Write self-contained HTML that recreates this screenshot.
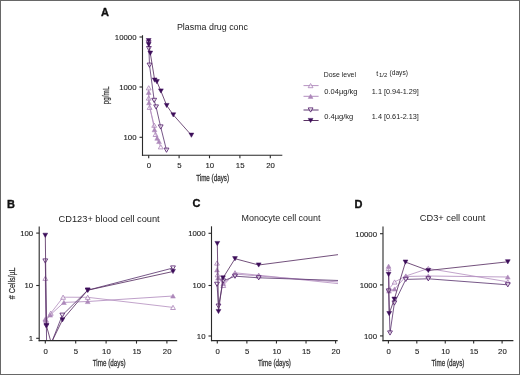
<!DOCTYPE html>
<html><head><meta charset="utf-8"><style>
html,body{margin:0;padding:0;background:#fff;}
#f{position:absolute;left:0;top:0;width:520px;height:375px;box-sizing:border-box;border:1px solid #676767;overflow:hidden;}
svg{position:absolute;left:-1px;top:-1px;}
text{font-family:"Liberation Sans", sans-serif;}
</style></head><body><div id="f">
<svg width="520" height="375" viewBox="0 0 520 375">
<defs><filter id="soft" x="-5%" y="-5%" width="110%" height="110%"><feGaussianBlur stdDeviation="0.3"/></filter></defs>
<g filter="url(#soft)">
<defs><clipPath id="clipC"><rect x="200" y="220" width="138" height="125"/></clipPath><clipPath id="clipB"><rect x="39" y="220" width="150" height="120.3"/></clipPath></defs>
<polyline points="148.70,87.80 148.70,98.00 149.60,107.30 154.20,125.20 155.50,134.40 160.70,146.80" fill="none" stroke="#b793c2" stroke-width="0.85" stroke-linejoin="round"/>
<polygon points="146.30,89.90 151.10,89.90 148.70,85.70" fill="#fff" fill-opacity="0.6" stroke="#ad88ba" stroke-width="0.85"/>
<polygon points="146.30,100.10 151.10,100.10 148.70,95.90" fill="#fff" fill-opacity="0.6" stroke="#ad88ba" stroke-width="0.85"/>
<polygon points="147.20,109.40 152.00,109.40 149.60,105.20" fill="#fff" fill-opacity="0.6" stroke="#ad88ba" stroke-width="0.85"/>
<polygon points="151.80,127.30 156.60,127.30 154.20,123.10" fill="#fff" fill-opacity="0.6" stroke="#ad88ba" stroke-width="0.85"/>
<polygon points="153.10,136.50 157.90,136.50 155.50,132.30" fill="#fff" fill-opacity="0.6" stroke="#ad88ba" stroke-width="0.85"/>
<polygon points="158.30,148.90 163.10,148.90 160.70,144.70" fill="#fff" fill-opacity="0.6" stroke="#ad88ba" stroke-width="0.85"/>
<polyline points="148.70,92.40 149.00,102.70 154.50,129.70 157.20,138.20 159.00,141.50" fill="none" stroke="#b28ebf" stroke-width="0.85" stroke-linejoin="round"/>
<polygon points="146.30,94.50 151.10,94.50 148.70,90.30" fill="#ad88ba" stroke="#ad88ba" stroke-width="0.5"/>
<polygon points="146.60,104.80 151.40,104.80 149.00,100.60" fill="#ad88ba" stroke="#ad88ba" stroke-width="0.5"/>
<polygon points="152.10,131.80 156.90,131.80 154.50,127.60" fill="#ad88ba" stroke="#ad88ba" stroke-width="0.5"/>
<polygon points="154.80,140.30 159.60,140.30 157.20,136.10" fill="#ad88ba" stroke="#ad88ba" stroke-width="0.5"/>
<polygon points="156.60,143.60 161.40,143.60 159.00,139.40" fill="#ad88ba" stroke="#ad88ba" stroke-width="0.5"/>
<polyline points="148.70,42.80 148.90,48.60 149.50,65.20 154.20,100.40 156.10,107.00 160.70,127.00 166.50,150.20" fill="none" stroke="#5e3a72" stroke-width="0.85" stroke-linejoin="round"/>
<polygon points="146.30,40.70 151.10,40.70 148.70,44.90" fill="#fff" fill-opacity="0.6" stroke="#55206e" stroke-width="0.85"/>
<polygon points="146.50,46.50 151.30,46.50 148.90,50.70" fill="#fff" fill-opacity="0.6" stroke="#55206e" stroke-width="0.85"/>
<polygon points="147.10,63.10 151.90,63.10 149.50,67.30" fill="#fff" fill-opacity="0.6" stroke="#55206e" stroke-width="0.85"/>
<polygon points="151.80,98.30 156.60,98.30 154.20,102.50" fill="#fff" fill-opacity="0.6" stroke="#55206e" stroke-width="0.85"/>
<polygon points="153.70,104.90 158.50,104.90 156.10,109.10" fill="#fff" fill-opacity="0.6" stroke="#55206e" stroke-width="0.85"/>
<polygon points="158.30,124.90 163.10,124.90 160.70,129.10" fill="#fff" fill-opacity="0.6" stroke="#55206e" stroke-width="0.85"/>
<polygon points="164.10,148.10 168.90,148.10 166.50,152.30" fill="#fff" fill-opacity="0.6" stroke="#55206e" stroke-width="0.85"/>
<polyline points="148.70,40.60 148.70,44.60 150.30,53.20 154.70,80.10 156.90,81.70 160.90,91.00 166.70,105.50 173.30,114.90 191.40,135.20" fill="none" stroke="#5a3264" stroke-width="0.85" stroke-linejoin="round"/>
<polygon points="146.30,38.50 151.10,38.50 148.70,42.70" fill="#3c0c5a" stroke="#3c0c5a" stroke-width="0.5"/>
<polygon points="146.30,42.50 151.10,42.50 148.70,46.70" fill="#3c0c5a" stroke="#3c0c5a" stroke-width="0.5"/>
<polygon points="147.90,51.10 152.70,51.10 150.30,55.30" fill="#3c0c5a" stroke="#3c0c5a" stroke-width="0.5"/>
<polygon points="152.30,78.00 157.10,78.00 154.70,82.20" fill="#3c0c5a" stroke="#3c0c5a" stroke-width="0.5"/>
<polygon points="154.50,79.60 159.30,79.60 156.90,83.80" fill="#3c0c5a" stroke="#3c0c5a" stroke-width="0.5"/>
<polygon points="158.50,88.90 163.30,88.90 160.90,93.10" fill="#3c0c5a" stroke="#3c0c5a" stroke-width="0.5"/>
<polygon points="164.30,103.40 169.10,103.40 166.70,107.60" fill="#3c0c5a" stroke="#3c0c5a" stroke-width="0.5"/>
<polygon points="170.90,112.80 175.70,112.80 173.30,117.00" fill="#3c0c5a" stroke="#3c0c5a" stroke-width="0.5"/>
<polygon points="189.00,133.10 193.80,133.10 191.40,137.30" fill="#3c0c5a" stroke="#3c0c5a" stroke-width="0.5"/>
<polyline points="45.30,278.30 45.80,319.50 50.80,313.20 63.10,297.20 87.70,297.30 173.00,307.40" fill="none" stroke="#b793c2" stroke-width="0.85" stroke-linejoin="round"/>
<polygon points="42.90,280.40 47.70,280.40 45.30,276.20" fill="#fff" fill-opacity="0.6" stroke="#ad88ba" stroke-width="0.85"/>
<polygon points="43.40,321.60 48.20,321.60 45.80,317.40" fill="#fff" fill-opacity="0.6" stroke="#ad88ba" stroke-width="0.85"/>
<polygon points="48.40,315.30 53.20,315.30 50.80,311.10" fill="#fff" fill-opacity="0.6" stroke="#ad88ba" stroke-width="0.85"/>
<polygon points="60.70,299.30 65.50,299.30 63.10,295.10" fill="#fff" fill-opacity="0.6" stroke="#ad88ba" stroke-width="0.85"/>
<polygon points="85.30,299.40 90.10,299.40 87.70,295.20" fill="#fff" fill-opacity="0.6" stroke="#ad88ba" stroke-width="0.85"/>
<polygon points="170.60,309.50 175.40,309.50 173.00,305.30" fill="#fff" fill-opacity="0.6" stroke="#ad88ba" stroke-width="0.85"/>
<polyline points="45.30,319.00 46.00,320.40 50.20,315.00 63.90,302.40 87.70,301.50 173.00,296.00" fill="none" stroke="#b28ebf" stroke-width="0.85" stroke-linejoin="round"/>
<polygon points="42.90,321.10 47.70,321.10 45.30,316.90" fill="#ad88ba" stroke="#ad88ba" stroke-width="0.5"/>
<polygon points="43.60,322.50 48.40,322.50 46.00,318.30" fill="#ad88ba" stroke="#ad88ba" stroke-width="0.5"/>
<polygon points="47.80,317.10 52.60,317.10 50.20,312.90" fill="#ad88ba" stroke="#ad88ba" stroke-width="0.5"/>
<polygon points="61.50,304.50 66.30,304.50 63.90,300.30" fill="#ad88ba" stroke="#ad88ba" stroke-width="0.5"/>
<polygon points="85.30,303.60 90.10,303.60 87.70,299.40" fill="#ad88ba" stroke="#ad88ba" stroke-width="0.5"/>
<polygon points="170.60,298.10 175.40,298.10 173.00,293.90" fill="#ad88ba" stroke="#ad88ba" stroke-width="0.5"/>
<polyline points="45.30,261.00 46.40,326.00 46.60,343.00 51.40,343.00 62.30,315.20 87.70,290.20 173.00,268.00" fill="none" stroke="#5e3a72" stroke-width="0.85" stroke-linejoin="round" clip-path="url(#clipB)"/>
<g clip-path="url(#clipB)">
<polygon points="42.90,258.90 47.70,258.90 45.30,263.10" fill="#fff" fill-opacity="0.6" stroke="#55206e" stroke-width="0.85"/>
<polygon points="44.00,323.90 48.80,323.90 46.40,328.10" fill="#fff" fill-opacity="0.6" stroke="#55206e" stroke-width="0.85"/>
<polygon points="44.20,340.90 49.00,340.90 46.60,345.10" fill="#fff" fill-opacity="0.6" stroke="#55206e" stroke-width="0.85"/>
<polygon points="49.00,340.90 53.80,340.90 51.40,345.10" fill="#fff" fill-opacity="0.6" stroke="#55206e" stroke-width="0.85"/>
<polygon points="59.90,313.10 64.70,313.10 62.30,317.30" fill="#fff" fill-opacity="0.6" stroke="#55206e" stroke-width="0.85"/>
<polygon points="85.30,288.10 90.10,288.10 87.70,292.30" fill="#fff" fill-opacity="0.6" stroke="#55206e" stroke-width="0.85"/>
<polygon points="170.60,265.90 175.40,265.90 173.00,270.10" fill="#fff" fill-opacity="0.6" stroke="#55206e" stroke-width="0.85"/>
</g>
<polyline points="45.30,235.30 46.40,325.50 51.20,343.00 62.50,319.80 87.70,290.20 173.00,271.50" fill="none" stroke="#5a3264" stroke-width="0.85" stroke-linejoin="round" clip-path="url(#clipB)"/>
<g clip-path="url(#clipB)">
<polygon points="42.90,233.20 47.70,233.20 45.30,237.40" fill="#3c0c5a" stroke="#3c0c5a" stroke-width="0.5"/>
<polygon points="44.00,323.40 48.80,323.40 46.40,327.60" fill="#3c0c5a" stroke="#3c0c5a" stroke-width="0.5"/>
<polygon points="48.80,340.90 53.60,340.90 51.20,345.10" fill="#3c0c5a" stroke="#3c0c5a" stroke-width="0.5"/>
<polygon points="60.10,317.70 64.90,317.70 62.50,321.90" fill="#3c0c5a" stroke="#3c0c5a" stroke-width="0.5"/>
<polygon points="85.30,288.10 90.10,288.10 87.70,292.30" fill="#3c0c5a" stroke="#3c0c5a" stroke-width="0.5"/>
<polygon points="170.60,269.40 175.40,269.40 173.00,273.60" fill="#3c0c5a" stroke="#3c0c5a" stroke-width="0.5"/>
</g>
<polyline points="217.00,263.00 217.60,274.70 223.30,285.40 235.00,272.80 258.70,275.20 341.50,284.00" fill="none" stroke="#b793c2" stroke-width="0.85" stroke-linejoin="round" clip-path="url(#clipC)"/>
<g clip-path="url(#clipC)">
<polygon points="214.60,265.10 219.40,265.10 217.00,260.90" fill="#fff" fill-opacity="0.6" stroke="#ad88ba" stroke-width="0.85"/>
<polygon points="215.20,276.80 220.00,276.80 217.60,272.60" fill="#fff" fill-opacity="0.6" stroke="#ad88ba" stroke-width="0.85"/>
<polygon points="220.90,287.50 225.70,287.50 223.30,283.30" fill="#fff" fill-opacity="0.6" stroke="#ad88ba" stroke-width="0.85"/>
<polygon points="232.60,274.90 237.40,274.90 235.00,270.70" fill="#fff" fill-opacity="0.6" stroke="#ad88ba" stroke-width="0.85"/>
<polygon points="256.30,277.30 261.10,277.30 258.70,273.10" fill="#fff" fill-opacity="0.6" stroke="#ad88ba" stroke-width="0.85"/>
<polygon points="339.10,286.10 343.90,286.10 341.50,281.90" fill="#fff" fill-opacity="0.6" stroke="#ad88ba" stroke-width="0.85"/>
</g>
<polyline points="217.00,269.90 218.00,278.00 223.30,283.50 235.00,274.00 258.70,276.00 341.50,282.20" fill="none" stroke="#b28ebf" stroke-width="0.85" stroke-linejoin="round" clip-path="url(#clipC)"/>
<g clip-path="url(#clipC)">
<polygon points="214.60,272.00 219.40,272.00 217.00,267.80" fill="#ad88ba" stroke="#ad88ba" stroke-width="0.5"/>
<polygon points="215.60,280.10 220.40,280.10 218.00,275.90" fill="#ad88ba" stroke="#ad88ba" stroke-width="0.5"/>
<polygon points="220.90,285.60 225.70,285.60 223.30,281.40" fill="#ad88ba" stroke="#ad88ba" stroke-width="0.5"/>
<polygon points="232.60,276.10 237.40,276.10 235.00,271.90" fill="#ad88ba" stroke="#ad88ba" stroke-width="0.5"/>
<polygon points="256.30,278.10 261.10,278.10 258.70,273.90" fill="#ad88ba" stroke="#ad88ba" stroke-width="0.5"/>
<polygon points="339.10,284.30 343.90,284.30 341.50,280.10" fill="#ad88ba" stroke="#ad88ba" stroke-width="0.5"/>
</g>
<polyline points="217.00,284.30 218.50,306.10 223.20,281.00 235.00,276.20 258.70,277.80 341.50,280.60" fill="none" stroke="#5e3a72" stroke-width="0.85" stroke-linejoin="round" clip-path="url(#clipC)"/>
<g clip-path="url(#clipC)">
<polygon points="214.60,282.20 219.40,282.20 217.00,286.40" fill="#fff" fill-opacity="0.6" stroke="#55206e" stroke-width="0.85"/>
<polygon points="216.10,304.00 220.90,304.00 218.50,308.20" fill="#fff" fill-opacity="0.6" stroke="#55206e" stroke-width="0.85"/>
<polygon points="220.80,278.90 225.60,278.90 223.20,283.10" fill="#fff" fill-opacity="0.6" stroke="#55206e" stroke-width="0.85"/>
<polygon points="232.60,274.10 237.40,274.10 235.00,278.30" fill="#fff" fill-opacity="0.6" stroke="#55206e" stroke-width="0.85"/>
<polygon points="256.30,275.70 261.10,275.70 258.70,279.90" fill="#fff" fill-opacity="0.6" stroke="#55206e" stroke-width="0.85"/>
<polygon points="339.10,278.50 343.90,278.50 341.50,282.70" fill="#fff" fill-opacity="0.6" stroke="#55206e" stroke-width="0.85"/>
</g>
<polyline points="217.30,243.50 218.50,311.50 223.00,277.90 235.00,258.70 258.70,265.00 341.50,254.20" fill="none" stroke="#5a3264" stroke-width="0.85" stroke-linejoin="round" clip-path="url(#clipC)"/>
<g clip-path="url(#clipC)">
<polygon points="214.90,241.40 219.70,241.40 217.30,245.60" fill="#3c0c5a" stroke="#3c0c5a" stroke-width="0.5"/>
<polygon points="216.10,309.40 220.90,309.40 218.50,313.60" fill="#3c0c5a" stroke="#3c0c5a" stroke-width="0.5"/>
<polygon points="220.60,275.80 225.40,275.80 223.00,280.00" fill="#3c0c5a" stroke="#3c0c5a" stroke-width="0.5"/>
<polygon points="232.60,256.60 237.40,256.60 235.00,260.80" fill="#3c0c5a" stroke="#3c0c5a" stroke-width="0.5"/>
<polygon points="256.30,262.90 261.10,262.90 258.70,267.10" fill="#3c0c5a" stroke="#3c0c5a" stroke-width="0.5"/>
<polygon points="339.10,252.10 343.90,252.10 341.50,256.30" fill="#3c0c5a" stroke="#3c0c5a" stroke-width="0.5"/>
</g>
<polyline points="388.60,268.50 389.00,289.00 394.60,282.00 405.80,276.00 428.30,268.50 507.80,281.80" fill="none" stroke="#b793c2" stroke-width="0.85" stroke-linejoin="round"/>
<polygon points="386.20,270.60 391.00,270.60 388.60,266.40" fill="#fff" fill-opacity="0.6" stroke="#ad88ba" stroke-width="0.85"/>
<polygon points="386.60,291.10 391.40,291.10 389.00,286.90" fill="#fff" fill-opacity="0.6" stroke="#ad88ba" stroke-width="0.85"/>
<polygon points="392.20,284.10 397.00,284.10 394.60,279.90" fill="#fff" fill-opacity="0.6" stroke="#ad88ba" stroke-width="0.85"/>
<polygon points="403.40,278.10 408.20,278.10 405.80,273.90" fill="#fff" fill-opacity="0.6" stroke="#ad88ba" stroke-width="0.85"/>
<polygon points="425.90,270.60 430.70,270.60 428.30,266.40" fill="#fff" fill-opacity="0.6" stroke="#ad88ba" stroke-width="0.85"/>
<polygon points="505.40,283.90 510.20,283.90 507.80,279.70" fill="#fff" fill-opacity="0.6" stroke="#ad88ba" stroke-width="0.85"/>
<polyline points="388.60,266.20 389.00,291.00 394.60,289.00 405.80,276.50 428.30,276.00 507.80,277.00" fill="none" stroke="#b28ebf" stroke-width="0.85" stroke-linejoin="round"/>
<polygon points="386.20,268.30 391.00,268.30 388.60,264.10" fill="#ad88ba" stroke="#ad88ba" stroke-width="0.5"/>
<polygon points="386.60,293.10 391.40,293.10 389.00,288.90" fill="#ad88ba" stroke="#ad88ba" stroke-width="0.5"/>
<polygon points="392.20,291.10 397.00,291.10 394.60,286.90" fill="#ad88ba" stroke="#ad88ba" stroke-width="0.5"/>
<polygon points="403.40,278.60 408.20,278.60 405.80,274.40" fill="#ad88ba" stroke="#ad88ba" stroke-width="0.5"/>
<polygon points="425.90,278.10 430.70,278.10 428.30,273.90" fill="#ad88ba" stroke="#ad88ba" stroke-width="0.5"/>
<polygon points="505.40,279.10 510.20,279.10 507.80,274.90" fill="#ad88ba" stroke="#ad88ba" stroke-width="0.5"/>
<polyline points="388.70,291.00 390.00,333.00 394.40,303.00 405.80,279.40 428.30,278.80 507.80,284.80" fill="none" stroke="#5e3a72" stroke-width="0.85" stroke-linejoin="round"/>
<polygon points="386.30,288.90 391.10,288.90 388.70,293.10" fill="#fff" fill-opacity="0.6" stroke="#55206e" stroke-width="0.85"/>
<polygon points="387.60,330.90 392.40,330.90 390.00,335.10" fill="#fff" fill-opacity="0.6" stroke="#55206e" stroke-width="0.85"/>
<polygon points="392.00,300.90 396.80,300.90 394.40,305.10" fill="#fff" fill-opacity="0.6" stroke="#55206e" stroke-width="0.85"/>
<polygon points="403.40,277.30 408.20,277.30 405.80,281.50" fill="#fff" fill-opacity="0.6" stroke="#55206e" stroke-width="0.85"/>
<polygon points="425.90,276.70 430.70,276.70 428.30,280.90" fill="#fff" fill-opacity="0.6" stroke="#55206e" stroke-width="0.85"/>
<polygon points="505.40,282.70 510.20,282.70 507.80,286.90" fill="#fff" fill-opacity="0.6" stroke="#55206e" stroke-width="0.85"/>
<polyline points="388.60,274.40 389.20,313.60 394.30,299.20 405.50,262.10 428.30,270.50 507.80,261.80" fill="none" stroke="#5a3264" stroke-width="0.85" stroke-linejoin="round"/>
<polygon points="386.20,272.30 391.00,272.30 388.60,276.50" fill="#3c0c5a" stroke="#3c0c5a" stroke-width="0.5"/>
<polygon points="386.80,311.50 391.60,311.50 389.20,315.70" fill="#3c0c5a" stroke="#3c0c5a" stroke-width="0.5"/>
<polygon points="391.90,297.10 396.70,297.10 394.30,301.30" fill="#3c0c5a" stroke="#3c0c5a" stroke-width="0.5"/>
<polygon points="403.10,260.00 407.90,260.00 405.50,264.20" fill="#3c0c5a" stroke="#3c0c5a" stroke-width="0.5"/>
<polygon points="425.90,268.40 430.70,268.40 428.30,272.60" fill="#3c0c5a" stroke="#3c0c5a" stroke-width="0.5"/>
<polygon points="505.40,259.70 510.20,259.70 507.80,263.90" fill="#3c0c5a" stroke="#3c0c5a" stroke-width="0.5"/>
<line x1="142.50" y1="35.20" x2="142.50" y2="155.85" stroke="#2a2a2a" stroke-width="1.1"/>
<line x1="141.95" y1="155.30" x2="282.30" y2="155.30" stroke="#2a2a2a" stroke-width="1.1"/>
<line x1="139.50" y1="37.00" x2="142.50" y2="37.00" stroke="#2a2a2a" stroke-width="1.1"/>
<line x1="139.50" y1="87.00" x2="142.50" y2="87.00" stroke="#2a2a2a" stroke-width="1.1"/>
<line x1="139.50" y1="137.30" x2="142.50" y2="137.30" stroke="#2a2a2a" stroke-width="1.1"/>
<line x1="148.70" y1="155.30" x2="148.70" y2="158.30" stroke="#2a2a2a" stroke-width="1.1"/>
<line x1="179.10" y1="155.30" x2="179.10" y2="158.30" stroke="#2a2a2a" stroke-width="1.1"/>
<line x1="209.50" y1="155.30" x2="209.50" y2="158.30" stroke="#2a2a2a" stroke-width="1.1"/>
<line x1="239.90" y1="155.30" x2="239.90" y2="158.30" stroke="#2a2a2a" stroke-width="1.1"/>
<line x1="270.30" y1="155.30" x2="270.30" y2="158.30" stroke="#2a2a2a" stroke-width="1.1"/>
<line x1="39.20" y1="226.60" x2="39.20" y2="341.15" stroke="#2a2a2a" stroke-width="1.1"/>
<line x1="38.65" y1="340.60" x2="177.20" y2="340.60" stroke="#2a2a2a" stroke-width="1.1"/>
<line x1="36.20" y1="233.10" x2="39.20" y2="233.10" stroke="#2a2a2a" stroke-width="1.1"/>
<line x1="36.20" y1="285.50" x2="39.20" y2="285.50" stroke="#2a2a2a" stroke-width="1.1"/>
<line x1="36.20" y1="338.30" x2="39.20" y2="338.30" stroke="#2a2a2a" stroke-width="1.1"/>
<line x1="45.30" y1="340.60" x2="45.30" y2="343.60" stroke="#2a2a2a" stroke-width="1.1"/>
<line x1="75.70" y1="340.60" x2="75.70" y2="343.60" stroke="#2a2a2a" stroke-width="1.1"/>
<line x1="106.10" y1="340.60" x2="106.10" y2="343.60" stroke="#2a2a2a" stroke-width="1.1"/>
<line x1="136.50" y1="340.60" x2="136.50" y2="343.60" stroke="#2a2a2a" stroke-width="1.1"/>
<line x1="166.90" y1="340.60" x2="166.90" y2="343.60" stroke="#2a2a2a" stroke-width="1.1"/>
<line x1="211.50" y1="226.30" x2="211.50" y2="341.15" stroke="#2a2a2a" stroke-width="1.1"/>
<line x1="210.95" y1="340.60" x2="337.70" y2="340.60" stroke="#2a2a2a" stroke-width="1.1"/>
<line x1="208.50" y1="233.30" x2="211.50" y2="233.30" stroke="#2a2a2a" stroke-width="1.1"/>
<line x1="208.50" y1="285.50" x2="211.50" y2="285.50" stroke="#2a2a2a" stroke-width="1.1"/>
<line x1="208.50" y1="336.00" x2="211.50" y2="336.00" stroke="#2a2a2a" stroke-width="1.1"/>
<line x1="217.30" y1="340.60" x2="217.30" y2="343.60" stroke="#2a2a2a" stroke-width="1.1"/>
<line x1="246.88" y1="340.60" x2="246.88" y2="343.60" stroke="#2a2a2a" stroke-width="1.1"/>
<line x1="276.45" y1="340.60" x2="276.45" y2="343.60" stroke="#2a2a2a" stroke-width="1.1"/>
<line x1="306.02" y1="340.60" x2="306.02" y2="343.60" stroke="#2a2a2a" stroke-width="1.1"/>
<line x1="335.60" y1="340.60" x2="335.60" y2="343.60" stroke="#2a2a2a" stroke-width="1.1"/>
<line x1="383.00" y1="226.60" x2="383.00" y2="341.15" stroke="#2a2a2a" stroke-width="1.1"/>
<line x1="382.45" y1="340.60" x2="513.40" y2="340.60" stroke="#2a2a2a" stroke-width="1.1"/>
<line x1="380.00" y1="233.70" x2="383.00" y2="233.70" stroke="#2a2a2a" stroke-width="1.1"/>
<line x1="380.00" y1="284.90" x2="383.00" y2="284.90" stroke="#2a2a2a" stroke-width="1.1"/>
<line x1="380.00" y1="335.90" x2="383.00" y2="335.90" stroke="#2a2a2a" stroke-width="1.1"/>
<line x1="388.40" y1="340.60" x2="388.40" y2="343.60" stroke="#2a2a2a" stroke-width="1.1"/>
<line x1="416.82" y1="340.60" x2="416.82" y2="343.60" stroke="#2a2a2a" stroke-width="1.1"/>
<line x1="445.25" y1="340.60" x2="445.25" y2="343.60" stroke="#2a2a2a" stroke-width="1.1"/>
<line x1="473.67" y1="340.60" x2="473.67" y2="343.60" stroke="#2a2a2a" stroke-width="1.1"/>
<line x1="502.10" y1="340.60" x2="502.10" y2="343.60" stroke="#2a2a2a" stroke-width="1.1"/>
<line x1="303.50" y1="85.60" x2="318.60" y2="85.60" stroke="#b793c2" stroke-width="1.0"/>
<polygon points="308.20,87.70 313.00,87.70 310.60,83.50" fill="#fff" fill-opacity="0.6" stroke="#ad88ba" stroke-width="0.85"/>
<line x1="303.50" y1="96.30" x2="318.60" y2="96.30" stroke="#b28ebf" stroke-width="1.0"/>
<polygon points="308.20,98.40 313.00,98.40 310.60,94.20" fill="#ad88ba" stroke="#ad88ba" stroke-width="0.5"/>
<line x1="303.50" y1="110.00" x2="318.60" y2="110.00" stroke="#5e3a72" stroke-width="1.0"/>
<polygon points="308.20,107.90 313.00,107.90 310.60,112.10" fill="#fff" fill-opacity="0.6" stroke="#55206e" stroke-width="0.85"/>
<line x1="303.50" y1="120.50" x2="318.60" y2="120.50" stroke="#5a3264" stroke-width="1.0"/>
<polygon points="308.20,118.40 313.00,118.40 310.60,122.60" fill="#3c0c5a" stroke="#3c0c5a" stroke-width="0.5"/>
</g>
<text x="136.50" y="39.80" font-size="7.8" text-anchor="end" fill="#222" font-weight="normal" stroke="#222" stroke-width="0.12">10000</text>
<text x="136.50" y="89.80" font-size="7.8" text-anchor="end" fill="#222" font-weight="normal" stroke="#222" stroke-width="0.12">1000</text>
<text x="136.50" y="140.10" font-size="7.8" text-anchor="end" fill="#222" font-weight="normal" stroke="#222" stroke-width="0.12">100</text>
<text x="149.00" y="168.20" font-size="7.8" text-anchor="middle" fill="#222" font-weight="normal" stroke="#222" stroke-width="0.12">0</text>
<text x="179.40" y="168.20" font-size="7.8" text-anchor="middle" fill="#222" font-weight="normal" stroke="#222" stroke-width="0.12">5</text>
<text x="209.80" y="168.20" font-size="7.8" text-anchor="middle" fill="#222" font-weight="normal" stroke="#222" stroke-width="0.12">10</text>
<text x="240.20" y="168.20" font-size="7.8" text-anchor="middle" fill="#222" font-weight="normal" stroke="#222" stroke-width="0.12">15</text>
<text x="270.60" y="168.20" font-size="7.8" text-anchor="middle" fill="#222" font-weight="normal" stroke="#222" stroke-width="0.12">20</text>
<text x="33.20" y="235.90" font-size="7.8" text-anchor="end" fill="#222" font-weight="normal" stroke="#222" stroke-width="0.12">100</text>
<text x="33.20" y="288.30" font-size="7.8" text-anchor="end" fill="#222" font-weight="normal" stroke="#222" stroke-width="0.12">10</text>
<text x="33.20" y="341.10" font-size="7.8" text-anchor="end" fill="#222" font-weight="normal" stroke="#222" stroke-width="0.12">1</text>
<text x="45.60" y="353.50" font-size="7.8" text-anchor="middle" fill="#222" font-weight="normal" stroke="#222" stroke-width="0.12">0</text>
<text x="76.00" y="353.50" font-size="7.8" text-anchor="middle" fill="#222" font-weight="normal" stroke="#222" stroke-width="0.12">5</text>
<text x="106.40" y="353.50" font-size="7.8" text-anchor="middle" fill="#222" font-weight="normal" stroke="#222" stroke-width="0.12">10</text>
<text x="136.80" y="353.50" font-size="7.8" text-anchor="middle" fill="#222" font-weight="normal" stroke="#222" stroke-width="0.12">15</text>
<text x="167.20" y="353.50" font-size="7.8" text-anchor="middle" fill="#222" font-weight="normal" stroke="#222" stroke-width="0.12">20</text>
<text x="205.50" y="236.10" font-size="7.8" text-anchor="end" fill="#222" font-weight="normal" stroke="#222" stroke-width="0.12">1000</text>
<text x="205.50" y="288.30" font-size="7.8" text-anchor="end" fill="#222" font-weight="normal" stroke="#222" stroke-width="0.12">100</text>
<text x="205.50" y="338.80" font-size="7.8" text-anchor="end" fill="#222" font-weight="normal" stroke="#222" stroke-width="0.12">10</text>
<text x="217.60" y="353.50" font-size="7.8" text-anchor="middle" fill="#222" font-weight="normal" stroke="#222" stroke-width="0.12">0</text>
<text x="247.18" y="353.50" font-size="7.8" text-anchor="middle" fill="#222" font-weight="normal" stroke="#222" stroke-width="0.12">5</text>
<text x="276.75" y="353.50" font-size="7.8" text-anchor="middle" fill="#222" font-weight="normal" stroke="#222" stroke-width="0.12">10</text>
<text x="306.32" y="353.50" font-size="7.8" text-anchor="middle" fill="#222" font-weight="normal" stroke="#222" stroke-width="0.12">15</text>
<text x="335.90" y="353.50" font-size="7.8" text-anchor="middle" fill="#222" font-weight="normal" stroke="#222" stroke-width="0.12">20</text>
<text x="377.00" y="236.50" font-size="7.8" text-anchor="end" fill="#222" font-weight="normal" stroke="#222" stroke-width="0.12">10000</text>
<text x="377.00" y="287.70" font-size="7.8" text-anchor="end" fill="#222" font-weight="normal" stroke="#222" stroke-width="0.12">1000</text>
<text x="377.00" y="338.70" font-size="7.8" text-anchor="end" fill="#222" font-weight="normal" stroke="#222" stroke-width="0.12">100</text>
<text x="388.70" y="353.50" font-size="7.8" text-anchor="middle" fill="#222" font-weight="normal" stroke="#222" stroke-width="0.12">0</text>
<text x="417.12" y="353.50" font-size="7.8" text-anchor="middle" fill="#222" font-weight="normal" stroke="#222" stroke-width="0.12">5</text>
<text x="445.55" y="353.50" font-size="7.8" text-anchor="middle" fill="#222" font-weight="normal" stroke="#222" stroke-width="0.12">10</text>
<text x="473.97" y="353.50" font-size="7.8" text-anchor="middle" fill="#222" font-weight="normal" stroke="#222" stroke-width="0.12">15</text>
<text x="502.40" y="353.50" font-size="7.8" text-anchor="middle" fill="#222" font-weight="normal" stroke="#222" stroke-width="0.12">20</text>
<text x="101.00" y="15.80" font-size="11" text-anchor="start" fill="#111" font-weight="bold" stroke="#111" stroke-width="0.35">A</text>
<text x="6.90" y="207.50" font-size="11" text-anchor="start" fill="#111" font-weight="bold" stroke="#111" stroke-width="0.35">B</text>
<text x="192.50" y="207.30" font-size="11" text-anchor="start" fill="#111" font-weight="bold" stroke="#111" stroke-width="0.35">C</text>
<text x="354.60" y="207.70" font-size="11" text-anchor="start" fill="#111" font-weight="bold" stroke="#111" stroke-width="0.35">D</text>
<text x="176.90" y="29.70" font-size="8.9" text-anchor="start" fill="#222" font-weight="normal" >Plasma drug conc</text>
<text x="58.60" y="221.60" font-size="9.25" text-anchor="start" fill="#222" font-weight="normal" >CD123+ blood cell count</text>
<text x="241.50" y="221.30" font-size="8.95" text-anchor="start" fill="#222" font-weight="normal" >Monocyte cell count</text>
<text x="419.80" y="221.40" font-size="9.25" text-anchor="start" fill="#222" font-weight="normal" >CD3+ cell count</text>
<text transform="translate(212.60,180.50) scale(0.75,1)" font-size="8.4" text-anchor="middle" fill="#333" stroke="#333" stroke-width="0.28">Time (days)</text>
<text transform="translate(109.20,366.30) scale(0.75,1)" font-size="8.4" text-anchor="middle" fill="#333" stroke="#333" stroke-width="0.28">Time (days)</text>
<text transform="translate(274.40,366.00) scale(0.75,1)" font-size="8.4" text-anchor="middle" fill="#333" stroke="#333" stroke-width="0.28">Time (days)</text>
<text transform="translate(447.90,366.40) scale(0.75,1)" font-size="8.4" text-anchor="middle" fill="#333" stroke="#333" stroke-width="0.28">Time (days)</text>
<text transform="translate(108.80,95.40) rotate(-90) scale(0.69,1)" font-size="9.2" text-anchor="middle" fill="#333" stroke="#333" stroke-width="0.25">pg/mL</text>
<text transform="translate(14.60,283.30) rotate(-90) scale(0.75,1)" font-size="9.5" text-anchor="middle" fill="#333" stroke="#333" stroke-width="0.25"># Cells/µL</text>
<text x="323.80" y="77.00" font-size="6.9" text-anchor="start" fill="#222" font-weight="normal" >Dose level</text>
<text x="376.30" y="75.60" font-size="7.0" text-anchor="start" fill="#222" font-weight="normal" >t</text>
<text x="379.00" y="77.40" font-size="6.0" text-anchor="start" fill="#222" font-weight="normal" >1/2</text>
<text x="389.60" y="75.20" font-size="6.6" text-anchor="start" fill="#222" font-weight="normal" >(days)</text>
<text x="324.30" y="94.30" font-size="7.5" text-anchor="start" fill="#222" font-weight="normal" >0.04µg/kg</text>
<text x="324.30" y="119.00" font-size="7.5" text-anchor="start" fill="#222" font-weight="normal" >0.4µg/kg</text>
<text x="371.80" y="94.30" font-size="7.3" text-anchor="start" fill="#222" font-weight="normal" >1.1 [0.94-1.29]</text>
<text x="371.80" y="119.00" font-size="7.3" text-anchor="start" fill="#222" font-weight="normal" >1.4 [0.61-2.13]</text>
</svg></div></body></html>
